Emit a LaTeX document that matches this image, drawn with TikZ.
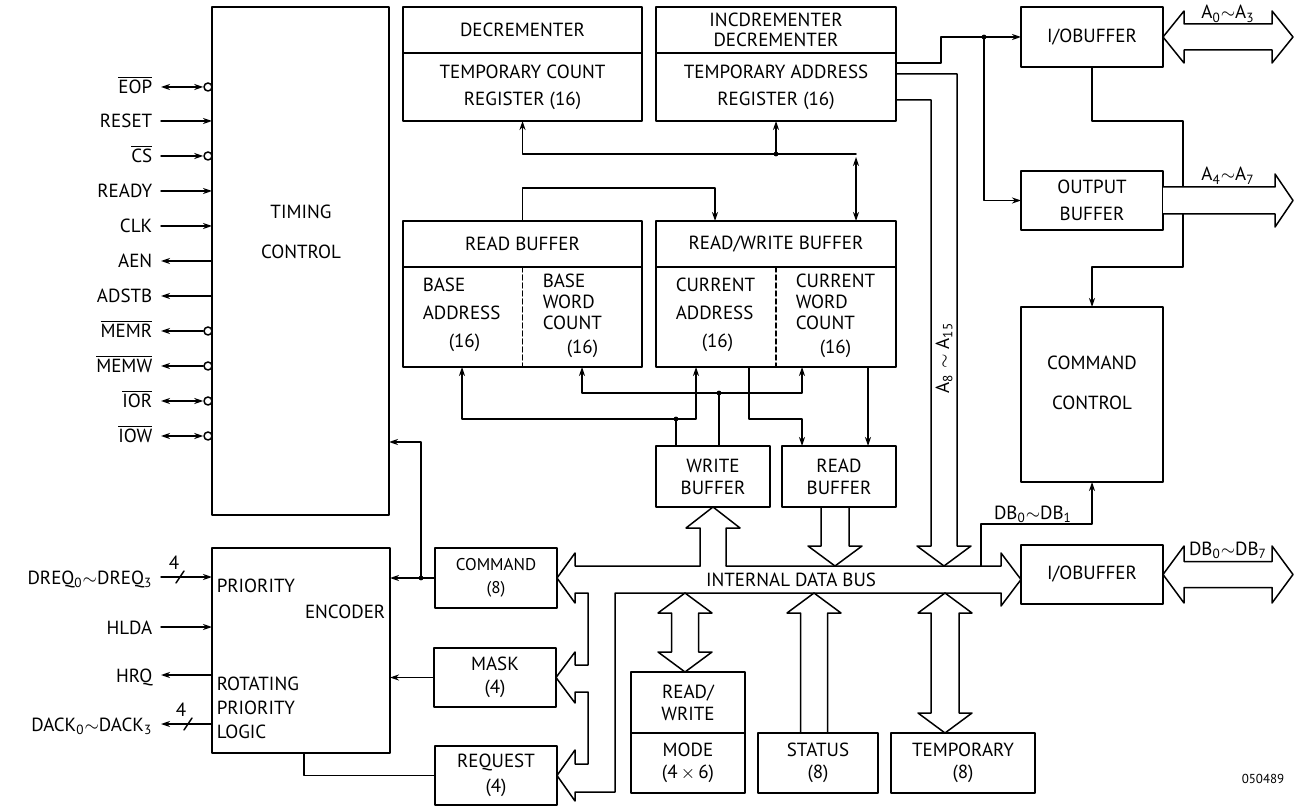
\documentclass[tikz,border=0pt]{standalone}
\usepackage{fontspec}
\setmainfont{PT Sans}
\usetikzlibrary{arrows.meta}

\newcommand{\ovl}[1]{$\overline{\mbox{#1}}$}

\tikzset{
  blk/.style={draw, rectangle, inner sep=0pt, outer sep=0pt, align=center},
  sz/.style 2 args={minimum width=#1*0.5pt, minimum height=#2*0.5pt},
  ls/.style={font=\fontsize{9.5pt}{#1}\selectfont},
  txt/.style={inner sep=1pt, align=center},
  sig/.style={anchor=east, inner sep=0pt, text height=7pt, text depth=0pt},
  buslbl/.style={anchor=base, inner sep=0pt},
  bubble/.style={draw, circle, inner sep=0pt, minimum size=4pt},
  sgbi/.style={<->}, sgin/.style={->}, sgout/.style={<-},
}

\begin{document}
\begin{tikzpicture}[x=0.5pt, y=-0.5pt, line width=0.75pt, line cap=round, line join=round,
    >={Stealth[length=4.5pt, width=3pt]}, font=\fontsize{9.5pt}{11.5pt}\selectfont]

	% Marco de la figura
	\useasboundingbox (0,0) rectangle (1294,806);

	% Control de temporizacion
	\node[blk, sz={177}{508}] (tim) at (300.5,261) {};
	\node[txt, ls=20pt] (timtxt) at (301,232) {TIMING\\CONTROL};

	% Registros temporales
	\node[blk, sz={239}{46}] (dect) at (522.5,30) {DECREMENTER};
	\node[blk, sz={239}{68}, ls=13.5pt] (decb) at (522.5,87) {TEMPORARY COUNT\\REGISTER (16)};
	\node[blk, sz={240}{46}, ls=10pt] (inct) at (776,30) {INCDREMENTER\\DECREMENTER};
	\node[blk, sz={240}{68}, ls=13.5pt] (incb) at (776,87) {TEMPORARY ADDRESS\\REGISTER (16)};

	% Registros base y actuales
	\node[blk, sz={239}{46}] (rbt) at (522.5,244) {READ BUFFER};
	\node[blk, sz={239}{100}] (rbb) at (522.5,317) {};
	\node[blk, sz={240}{46}] (rwt) at (776,244) {READ/WRITE BUFFER};
	\node[blk, sz={240}{100}] (rwb) at (776,317) {};
	\draw[dash pattern=on 2.5pt off 1.5pt] (rbb.north) -- (rbb.south);
	\draw[dash pattern=on 2.5pt off 1.5pt] (rwb.north) -- (rwb.south);
	\node[txt, anchor=west, align=left, ls=14pt] (baddr) at (420,315) {BASE\\ADDRESS\\\hspace*{13pt}(16)};
	\node[txt, anchor=west, align=left, ls=10.5pt] (bwc) at (540,316) {BASE\\WORD\\COUNT\\[1.5pt]\hspace*{12pt}(16)};
	\node[txt, anchor=west, align=left, ls=14pt] (caddr) at (673,315) {CURRENT\\ADDRESS\\\hspace*{13pt}(16)};
	\node[txt, anchor=west, align=left, ls=10.5pt] (cwc) at (793,316) {CURRENT\\WORD\\COUNT\\[1.5pt]\hspace*{12pt}(16)};

	\node[blk, sz={114}{61}, ls=11pt] (wb) at (713,476.5) {WRITE\\BUFFER};
	\node[blk, sz={114}{61}, ls=11pt] (rdb) at (839,476.5) {READ\\BUFFER};

	% Bloques de la derecha
	\node[blk, sz={142}{60}] (iot) at (1092,37) {I/OBUFFER};
	\node[blk, sz={142}{59}, ls=13.5pt] (outb) at (1092,200.5) {OUTPUT\\BUFFER};
	\node[blk, sz={142}{175}] (cmdc) at (1092,394.5) {};
	\node[txt, ls=20pt] (cmdctxt) at (1092,383) {COMMAND\\CONTROL};
	\node[blk, sz={142}{59}] (iob) at (1092,574.5) {I/OBUFFER};

	% Logica de prioridad
	\node[blk, sz={178}{205}] (pri) at (301,650.5) {};
	\node[txt, anchor=west] (prit) at (214,586) {PRIORITY};
	\node[txt, anchor=east] (enct) at (388,612) {ENCODER};
	\node[txt, anchor=west, align=left, ls=12pt] (rott) at (214,708) {ROTATING\\PRIORITY\\LOGIC};

	\node[blk, sz={122}{60}, font=\fontsize{8.5pt}{11.5pt}\selectfont] (cmd) at (496,578) {COMMAND\\(8)};
	\node[blk, sz={122}{59}, ls=11.5pt] (mask) at (495,677.5) {MASK\\(4)};
	\node[blk, sz={122}{59}, ls=12.5pt] (req) at (496,775.5) {REQUEST\\(4)};

	% Registros inferiores
	\node[blk, sz={114}{61}, ls=11pt] (rwmt) at (688,702.5) {READ/\\WRITE};
	\node[blk, sz={114}{60}, ls=11pt] (rwmb) at (688,763) {MODE\\(4\,$\times$\,6)};
	\node[blk, sz={120}{60}, ls=11pt] (sta) at (818,763) {STATUS\\(8)};
	\node[blk, sz={144}{60}, ls=11pt] (tmp) at (963,763) {TEMPORARY\\(8)};

	% Senales del control de temporizacion
	\foreach \lbl/\yy/\kind/\bub in {\ovl{EOP}/87/sgbi/1, RESET/121/sgin/0, \ovl{CS}/156/sgin/1,
	    READY/191/sgin/0, CLK/226/sgin/0, AEN/261/sgout/0, ADSTB/296/sgout/0,
	    \ovl{MEMR}/331/sgout/1, \ovl{MEMW}/366/sgout/1, \ovl{IOR}/401/sgbi/1, \ovl{IOW}/436/sgbi/1}{
		\node[sig] (s\yy) at (153,\yy) {\lbl};
		\ifnum\bub=1
			\node[bubble] (e\yy) at (208,\yy) {};
		\else
			\coordinate (e\yy) at (212,\yy);
		\fi
		\draw[\kind] (s\yy.east) ++(8,0) -- (e\yy);
	}

	% Senales de la logica de prioridad
	\node[sig] (dreq) at (153,577) {DREQ\textsubscript{0}$\sim$DREQ\textsubscript{3}};
	\draw[->] (dreq.east) ++(8,0) -- (pri.west |- dreq);
	\draw (176,583) -- (184,571);
	\node[txt] (n4a) at (174,563) {4};
	\node[sig] (hlda) at (153,627) {HLDA};
	\draw[->] (hlda.east) ++(8,0) -- (pri.west |- hlda);
	\node[sig] (hrq) at (153,675) {HRQ};
	\draw[<-] (hrq.east) ++(8,0) -- (pri.west |- hrq);
	\node[sig] (dack) at (153,724) {DACK\textsubscript{0}$\sim$DACK\textsubscript{3}};
	\draw[<-] (dack.east) ++(8,0) -- (pri.west |- dack);
	\draw (184,730) -- (192,718);
	\node[txt] (n4b) at (181,710) {4};

	% Conexiones entre registros
	\coordinate (j1) at (776,154);
	\draw[->] (856,154) -| (decb.south);
	\draw[->] (j1) -- (incb.south);
	\fill (j1) circle (1.2pt);
	\draw[<->] (856,157) -- (856,0 |- rwt.north);
	\draw[->] (rbt.north) |- (715,188) -- (715,0 |- rwt.north);

	\coordinate (j2) at (676,419);
	\coordinate (j3) at (719,393);
	\draw[<->] (462,0 |- rbb.south) |- (696,419) -- (696,0 |- rwb.south);
	\draw (j2) -- (j2 |- wb.north);
	\draw[<->] (582,0 |- rbb.south) |- (802,393) -- (802,0 |- rwb.south);
	\draw (j3) -- (j3 |- wb.north);
	\draw[->] (749,0 |- rwb.south) |- (802,419) -- (802,0 |- rdb.north);
	\draw[->] (868,0 |- rwb.south) -- (868,0 |- rdb.north);
	\fill (j2) circle (1.2pt);
	\fill (j3) circle (1.2pt);

	% Direcciones hacia los buffers de salida
	\coordinate (j4) at (984,37);
	\draw[->] (incb.east |- 0,63) -- (941,63) -- (941,37) -- (iot.west);
	\draw[->] (j4) |- (outb.west);
	\fill (j4) circle (1.2pt);
	\draw[->] (iot.south) -- ++(0,54) -| (1183,267) -| (cmdc.north);
	\draw[->] (981,566) |- (1092,524) -- (cmdc.south);
	\node[buslbl] (db01) at (1033,519) {DB\textsubscript{0}$\sim$DB\textsubscript{1}};

	% Conexiones de la logica de prioridad
	\coordinate (j5) at (421,578);
	\draw[->] (cmd.west) -- (pri.east |- cmd.west);
	\draw[->] (j5) |- (tim.east |- 0,442);
	\fill (j5) circle (1.2pt);
	\draw[->] (mask.west) -- (pri.east |- mask.west);
	\draw (req.west) -| (304,0 |- pri.south);

	% Bus interno de datos
	\draw (700,566) -- (575,566) -- (575,553) -- (cmd.east) -- (575,603) -- (575,593) -- (588,593)
	  -- (588,665) -- (575,665) -- (575,652) -- (mask.east) -- (575,703) -- (575,692) -- (588,692)
	  -- (588,764) -- (575,764) -- (575,750) -- (req.east) -- (575,801) -- (575,792) -- (615,792)
	  -- (615,593) -- (1001,593) -- (1001,606) -- (iob.west |- 0,579.5) -- (1001,553) -- (1001,566) -- (726,566);
	\node (busl) at (791,579.5) {INTERNAL DATA BUS};

	\draw (700,566) -- (700,528) -- (686,528) -- (wb.south) -- (740,528) -- (726,528) -- (726,566);
	\draw (821,507) -- (821,546) -- (808,546) -- (835,566) -- (862,546) -- (849,546) -- (849,507);
	\draw (685,593) -- (712,613) -- (698.5,613) -- (698.5,652) -- (712,652) -- (685,672)
	  -- (658,652) -- (671.5,652) -- (671.5,613) -- (658,613) -- cycle;
	\draw (800.5,733) -- (800.5,613) -- (787,613) -- (814,593) -- (841,613) -- (827.5,613) -- (827.5,733);
	\draw (945,593) -- (972,613) -- (959,613) -- (959,713) -- (972,713) -- (945,733)
	  -- (918,713) -- (931,713) -- (931,613) -- (918,613) -- cycle;

	% Bus de direcciones A8-A15
	\draw (incb.east |- 0,74) -- (957,74) -- (957,546) -- (971,546) -- (944,566) -- (917,546)
	  -- (931,546) -- (931,100) -- (incb.east |- 0,100);
	\node[rotate=90] (a815) at (944,358) {A\textsubscript{8} $\sim$ A\textsubscript{15}};

	% Buses externos
	\draw[fill=white] (iot.east) -- (1184,11) -- (1184,24) -- (1272,24) -- (1272,11) -- (1293,37)
	  -- (1272,63) -- (1272,50) -- (1184,50) -- (1184,63) -- cycle;
	\node[buslbl] (a03) at (1228,19) {A\textsubscript{0}$\sim$A\textsubscript{3}};
	\draw[fill=white] (outb.east |- 0,187) -- (1275,187) -- (1275,174) -- (1293,200.5) -- (1275,227)
	  -- (1275,214) -- (outb.east |- 0,214);
	\node[buslbl] (a47) at (1228,181) {A\textsubscript{4}$\sim$A\textsubscript{7}};
	\draw[fill=white] (iob.east) -- (1184,546) -- (1184,561.5) -- (1272,561.5) -- (1272,546) -- (1293,574.5)
	  -- (1272,603) -- (1272,587.5) -- (1184,587.5) -- (1184,603) -- cycle;
	\node[buslbl] (db07) at (1228,555) {DB\textsubscript{0}$\sim$DB\textsubscript{7}};

	\node[font=\fontsize{6.5pt}{7pt}\selectfont] (fig) at (1263,779) {050489};

\end{tikzpicture}
\end{document}
